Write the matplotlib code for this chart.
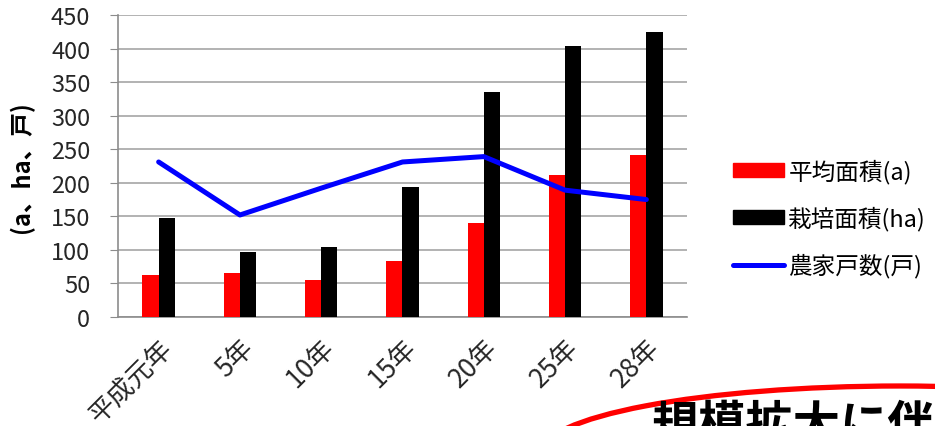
import numpy as np
import matplotlib
matplotlib.use('Agg')
import matplotlib.pyplot as plt
from matplotlib.patches import Patch, Ellipse
from matplotlib.lines import Line2D

plt.rcParams['font.family'] = ['Noto Sans CJK JP', 'DejaVu Sans']

# yearly data
years = ['平成元年', '5年', '10年', '15年', '20年', '25年', '28年']
avg_area = [63, 65, 55, 84, 140, 212, 241]        # 平均面積 (a)
cult_area = [147, 97, 105, 194, 335, 404, 424]    # 栽培面積 (ha)
households = [231, 152, 192, 231, 239, 189, 175]  # 農家戸数 (戸)
yticks = list(range(0, 451, 50))

W, H = 935, 427
fig = plt.figure(figsize=(W / 100, H / 100), dpi=100)
ax = fig.add_axes([118 / W, (H - 318) / H, (687 - 118) / W, (318 - 16) / H])

x = np.arange(len(years))
bw = 0.2
ax.bar(x - bw / 2, avg_area, width=bw, color='#ff0000', zorder=3)
ax.bar(x + bw / 2, cult_area, width=bw, color='#000000', zorder=3)
ax.plot(x, households, color='#0000ff', lw=3.6, solid_capstyle='round',
        solid_joinstyle='round', zorder=4)

ax.set_xlim(-0.5, len(years) - 0.5)
ax.set_ylim(0, 450)
ax.set_yticks(yticks)
ax.yaxis.grid(True, color='#a6a6a6', lw=1.2, zorder=0)
ax.set_axisbelow(True)
for s in ('top', 'right'):
    ax.spines[s].set_visible(False)
ax.spines['left'].set_color('#8c8c8c')
ax.spines['bottom'].set_color('#8c8c8c')
ax.spines['left'].set_linewidth(1.2)
ax.spines['bottom'].set_linewidth(1.2)
ax.tick_params(axis='y', length=6, color='#8c8c8c', labelsize=17,
               labelcolor='#262626', pad=14)
ax.tick_params(axis='x', length=0, labelsize=19, labelcolor='#262626', pad=12)
ax.set_xticks(x)
ax.set_xticklabels(years, rotation=45, ha='right', rotation_mode='anchor')
ax.set_ylabel('(a、ha、戸)', fontsize=17, fontweight='bold', labelpad=12)

handles = [Patch(color='#ff0000'), Patch(color='#000000'),
           Line2D([], [], color='#0000ff', lw=3.6, solid_capstyle='round')]
labels = ['平均面積(a)', '栽培面積(ha)', '農家戸数(戸)']
fig.legend(handles, labels, loc='upper left', bbox_to_anchor=(724 / W, 1 - 150 / H),
           frameon=False, fontsize=17, handlelength=2.15, handleheight=0.5,
           handletextpad=0.18, labelspacing=0.95, borderaxespad=0)

# callout below the chart
fig.add_artist(Ellipse((900 / W, 1 - 455 / H), 720 / W, 136 / H,
                       transform=fig.transFigure, fill=False,
                       ec='#ff0000', lw=3.8, zorder=5))
fig.text(652 / W, 1 - 450 / H, '規模拡大に伴', fontsize=34, fontweight='bold',
         ha='left', va='bottom', color='black', zorder=6)

fig.savefig('out.png', dpi=100)
